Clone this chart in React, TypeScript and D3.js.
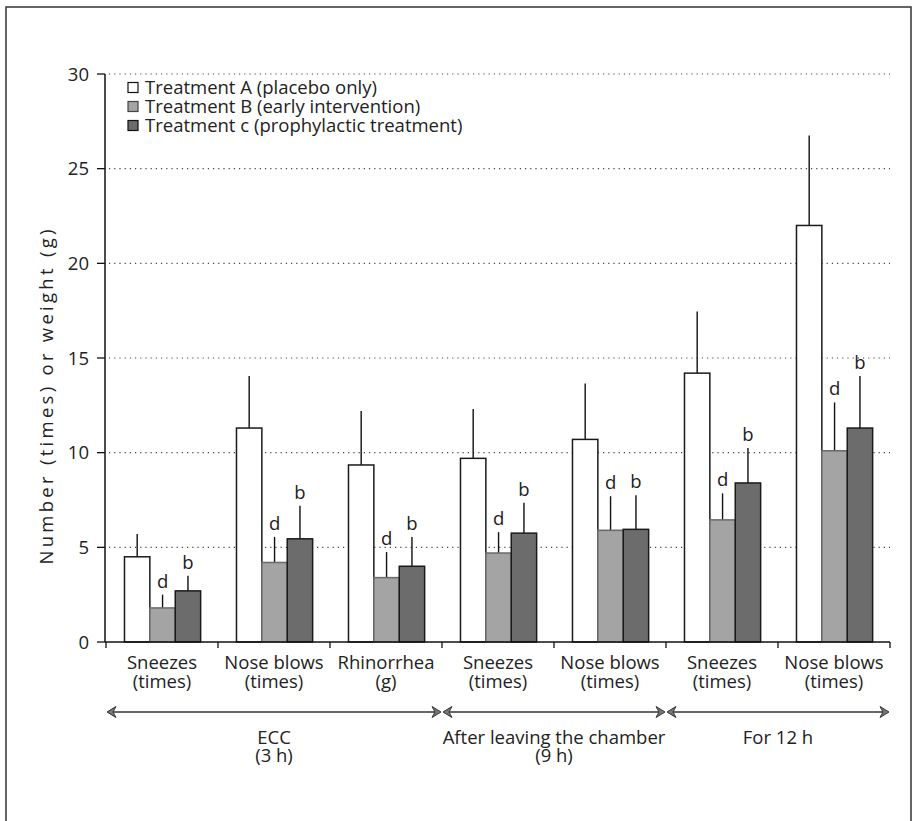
import React from 'react';
import * as d3 from 'd3';

// categories along the x axis (two text lines each)
const categories = [
  ['Sneezes', '(times)'],
  ['Nose blows', '(times)'],
  ['Rhinorrhea', '(g)'],
  ['Sneezes', '(times)'],
  ['Nose blows', '(times)'],
  ['Sneezes', '(times)'],
  ['Nose blows', '(times)'],
];

const seriesNames = [
  'Treatment A (placebo only)',
  'Treatment B (early intervention)',
  'Treatment c (prophylactic treatment)',
];

// means
const treatmentA = [4.5, 11.3, 9.35, 9.7, 10.7, 14.2, 22.0];
const treatmentB = [1.8, 4.2, 3.4, 4.7, 5.9, 6.45, 10.1];
const treatmentC = [2.7, 5.45, 4.0, 5.75, 5.95, 8.4, 11.3];

// upward error bars (SD)
const errorA = [1.2, 2.75, 2.85, 2.6, 2.95, 3.25, 4.75];
const errorB = [0.7, 1.35, 1.35, 1.1, 1.8, 1.4, 2.55];
const errorC = [0.8, 1.75, 1.55, 1.6, 1.8, 1.85, 2.75];

const letterB = 'd';
const letterC = 'b';

// time periods under the axis: [first category, last category, label lines]
const periods: [number, number, string[]][] = [
  [0, 2, ['ECC', '(3 h)']],
  [3, 4, ['After leaving the chamber', '(9 h)']],
  [5, 6, ['For 12 h']],
];

const yTicks = [0, 5, 10, 15, 20, 25, 30];

const fills = ['#ffffff', '#a4a4a4', '#6c6c6c'];
const strokes = ['#1a1a1a', '#6a6a6a', '#1a1a1a'];
const font = '"Open Sans", "Noto Sans", sans-serif';
const ink = '#222';
const fs = 18.5;

export default function App() {
  const width = 917;
  const height = 821;
  const left = 106;
  const right = 890;
  const top = 74;
  const bottom = 642;

  const y = d3.scaleLinear().domain([0, 30]).range([bottom, top]);
  const x0 = d3.scaleBand<number>()
    .domain(d3.range(categories.length))
    .range([left, right])
    .padding(0);
  const bw = x0.bandwidth();
  const x1 = d3.scaleBand<number>()
    .domain([0, 1, 2])
    .range([bw * 0.165, bw * 0.845])
    .padding(0);

  const means = [treatmentA, treatmentB, treatmentC];
  const errs = [errorA, errorB, errorC];
  const letters = [null, letterB, letterC];

  const arrowHead = (tipX: number, yy: number, dir: number) => {
    const len = 9;
    const half = 5.5;
    const bx = tipX - dir * len;
    return `M${tipX},${yy} L${bx},${yy - half} L${bx + dir * 3},${yy} L${bx},${yy + half} Z`;
  };

  const arrowY = 712;

  return (
    <svg
      width={width}
      height={height}
      style={{ position: 'absolute', left: 0, top: 0, background: '#fff' }}
      fontFamily={font}
    >
      {/* outer frame, open at the bottom */}
      <path d={`M6,${height} V7 H911 V${height}`} fill="none" stroke="#333" strokeWidth={1.5} />

      {/* dotted grid */}
      {yTicks.filter(t => t > 0).map(t => (
        <line
          key={'g' + t}
          x1={left + 3}
          x2={right}
          y1={y(t)}
          y2={y(t)}
          stroke="#444"
          strokeWidth={1.2}
          strokeDasharray="1.2 4"
        />
      ))}

      {/* bars */}
      {categories.map((c, i) => (
        <g key={'bar' + i} transform={`translate(${x0(i)},0)`}>
          {means.map((m, s) => {
            const bx = x1(s)!;
            const cx = bx + x1.bandwidth() / 2;
            const topY = y(m[i]);
            const errY = y(m[i] + errs[s][i]);
            return (
              <g key={s}>
                <line x1={cx} x2={cx} y1={topY} y2={errY} stroke="#111" strokeWidth={1.4} />
                <rect
                  x={bx}
                  y={topY}
                  width={x1.bandwidth()}
                  height={bottom - topY}
                  fill={fills[s]}
                  stroke={strokes[s]}
                  strokeWidth={1.5}
                />
                {letters[s] && (
                  <text x={cx} y={errY - 7} textAnchor="middle" fontSize={fs} fill={ink}>
                    {letters[s]}
                  </text>
                )}
              </g>
            );
          })}
        </g>
      ))}

      {/* y axis */}
      <line x1={left - 1} x2={left - 1} y1={top} y2={bottom} stroke="#111" strokeWidth={1.5} />
      {yTicks.map(t => (
        <g key={'y' + t}>
          <line x1={left - 9} x2={left - 1} y1={y(t)} y2={y(t)} stroke="#111" strokeWidth={1.3} />
          <text x={left - 17} y={y(t)} dy="0.36em" textAnchor="end" fontSize={fs} fill={ink}>
            {t}
          </text>
        </g>
      ))}
      <text
        transform={`translate(47,397) rotate(-90)`}
        textAnchor="middle"
        dy="0.35em"
        fontSize={fs}
        fill={ink}
        textLength={335}
        lengthAdjust="spacing"
      >
        Number (times) or weight (g)
      </text>

      {/* x axis */}
      <line x1={left - 1} x2={right} y1={bottom} y2={bottom} stroke="#111" strokeWidth={1.5} />
      {d3.range(categories.length + 1).map(i => {
        const tx = left + i * bw;
        return <line key={'xt' + i} x1={tx} x2={tx} y1={bottom} y2={bottom + 6} stroke="#111" strokeWidth={1.3} />;
      })}
      {categories.map((c, i) => (
        <text key={'xl' + i} x={x0(i)! + bw / 2} textAnchor="middle" fontSize={fs} fill={ink}>
          <tspan x={x0(i)! + bw / 2} y={669}>{c[0]}</tspan>
          <tspan x={x0(i)! + bw / 2} y={688}>{c[1]}</tspan>
        </text>
      ))}

      {/* period arrows */}
      {periods.map(([a, b, lines], k) => {
        const x1p = x0(a)! + 1;
        const x2p = x0(b)! + bw - 1;
        const mid = (x1p + x2p) / 2;
        return (
          <g key={'p' + k}>
            <line x1={x1p + 6} x2={x2p - 6} y1={arrowY} y2={arrowY} stroke="#333" strokeWidth={1.6} />
            <path d={arrowHead(x1p, arrowY, -1)} fill="#777" stroke="#333" strokeWidth={1} />
            <path d={arrowHead(x2p, arrowY, 1)} fill="#777" stroke="#333" strokeWidth={1} />
            <text x={mid} textAnchor="middle" fontSize={fs} fill={ink}>
              {lines.map((l, j) => (
                <tspan key={j} x={mid} y={744 + j * 18}>{l}</tspan>
              ))}
            </text>
          </g>
        );
      })}

      {/* legend */}
      {seriesNames.map((n, s) => (
        <g key={'lg' + s} transform={`translate(128,${88 + s * 19})`}>
          <rect x={0} y={-5.5} width={10} height={10} fill={fills[s]} stroke={s === 1 ? '#444' : '#111'} strokeWidth={1.2} />
          <text x={17} y={0} dy="0.35em" fontSize={fs} fill={ink}>
            {n}
          </text>
        </g>
      ))}
    </svg>
  );
}
